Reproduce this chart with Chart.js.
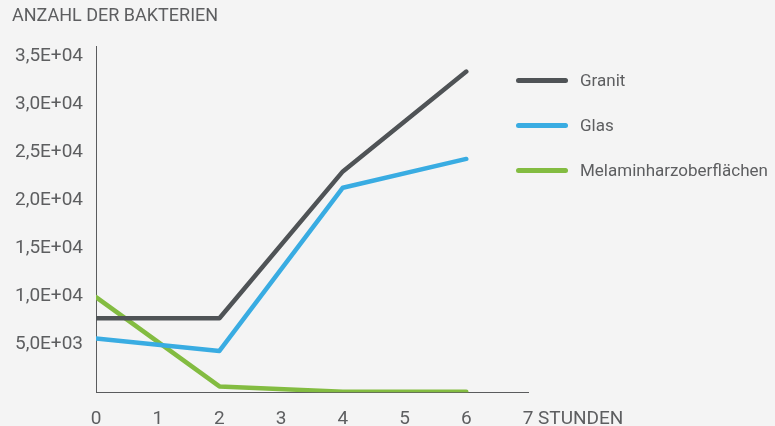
<!DOCTYPE html>
<html>
<head>
<meta charset="utf-8">
<script src="https://cdn.jsdelivr.net/npm/chart.js@4"></script>
<style>
  html, body { margin: 0; padding: 0; background: #f4f4f4; overflow: hidden; }
  #wrap { position: relative; width: 775px; height: 447px; }
  #legend { position: absolute; left: 516px; top: 68px; font-family: Roboto, sans-serif; font-size: 17px; color: #5d5e60; }
  .item { display: flex; align-items: center; height: 24px; margin-bottom: 21px; }
  .swatch { width: 52px; height: 5px; border-radius: 3px; margin-right: 12px; }
</style>
</head>
<body>
<div id="wrap">
  <canvas id="chart"></canvas>
  <div id="legend"></div>
</div>
<script>
const hours = [0, 2, 4, 6];
const seriesNames = ['Granit', 'Glas', 'Melaminharzoberflächen'];
const granit = [7700, 7700, 23000, 33400];
const glas = [5600, 4300, 21300, 24300];
const melamin = [9900, 600, 50, 50];
const yTickValues = [5000, 10000, 15000, 20000, 25000, 30000, 35000];
const xTickValues = [0, 1, 2, 3, 4, 5, 6, 7];
const colors = ['#4f5356', '#39ace2', '#83bc41'];
const yTitle = 'ANZAHL DER BAKTERIEN';
const xUnit = 'STUNDEN';

const textColor = '#5d5e60';
const fontFamily = 'Roboto, sans-serif';
const tickFont = { family: fontFamily, size: 19 };

// 35000 -> "3,5E+04"
function sci(v) {
    const parts = Number(v).toExponential(1).split('e');
    const n = parseInt(parts[1], 10);
    return parts[0].replace('.', ',') + 'E' + (n < 0 ? '-' : '+') + String(Math.abs(n)).padStart(2, '0');
}

function points(values) {
    return values.map((v, i) => ({ x: hours[i], y: v }));
}

const datasets = [granit, glas, melamin].map((vals, i) => ({
    label: seriesNames[i],
    data: points(vals),
    borderColor: colors[i],
    backgroundColor: colors[i],
    borderWidth: 4.5,
    borderCapStyle: 'round',
    borderJoinStyle: 'round',
    pointRadius: 0,
    tension: 0
}));

// writes the unit right after the last x tick label, on the same line
const unitLabel = {
    id: 'unitLabel',
    afterDraw(chart) {
        const xs = chart.scales.x;
        const items = xs.getLabelItems();
        const last = items[items.length - 1];
        const ctx = chart.ctx;
        ctx.save();
        ctx.font = last.font.string;
        ctx.fillStyle = textColor;
        ctx.textBaseline = last.options.textBaseline;
        ctx.textAlign = 'left';
        const w = ctx.measureText(String(last.label)).width;
        ctx.fillText(' ' + xUnit, last.options.translation[0] + w / 2, last.options.translation[1] + last.textOffset);
        ctx.restore();
    }
};

new Chart(document.getElementById('chart'), {
    type: 'line',
    data: { datasets: datasets },
    options: {
        responsive: true,
        maintainAspectRatio: false,
        animation: false,
        layout: { padding: { left: 12, right: 247, top: 0, bottom: 0 } },
        plugins: {
            legend: { display: false },
            tooltip: { enabled: false },
            title: {
                display: true,
                text: yTitle,
                align: 'start',
                color: textColor,
                font: { family: fontFamily, size: 18, weight: 'normal' },
                padding: { top: 6, bottom: 19 }
            }
        },
        scales: {
            x: {
                type: 'linear',
                min: 0,
                max: 7,
                grid: { display: false, drawTicks: false },
                border: { display: true, color: '#5a5b5d', width: 1 },
                ticks: { color: textColor, font: tickFont, padding: 16, maxRotation: 0 },
                afterBuildTicks: s => { s.ticks = xTickValues.map(v => ({ value: v })); }
            },
            y: {
                min: 0,
                max: 36000,
                grid: { display: false, drawTicks: false },
                border: { display: true, color: '#5a5b5d', width: 1 },
                ticks: { color: textColor, font: tickFont, padding: 13, callback: v => sci(v) },
                afterBuildTicks: s => { s.ticks = yTickValues.map(v => ({ value: v })); },
                afterFit: s => { s.width = 84; }
            }
        }
    },
    plugins: [unitLabel]
});

const legend = document.getElementById('legend');
seriesNames.forEach((name, i) => {
    const item = document.createElement('div');
    item.className = 'item';
    const sw = document.createElement('span');
    sw.className = 'swatch';
    sw.style.background = colors[i];
    const tx = document.createElement('span');
    tx.textContent = name;
    item.appendChild(sw);
    item.appendChild(tx);
    legend.appendChild(item);
});
</script>
</body>
</html>
